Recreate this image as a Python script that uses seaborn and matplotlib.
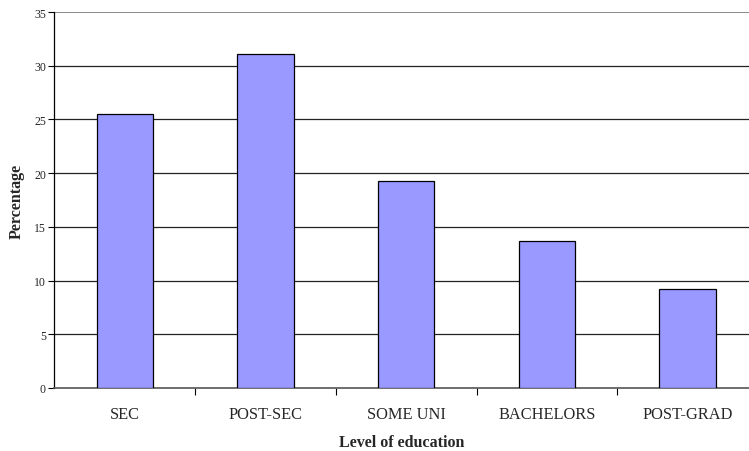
import matplotlib
matplotlib.use("Agg")
import matplotlib.pyplot as plt
import seaborn as sns
import pandas as pd
import numpy as np

categories = ["SEC", "POST-SEC", "SOME UNI", "BACHELORS", "POST-GRAD"]
percentages = [25.5, 31.1, 19.3, 13.7, 9.2]
y_ticks = [0, 5, 10, 15, 20, 25, 30, 35]

df = pd.DataFrame({"education": categories, "pct": percentages})

sns.set_style("white")
plt.rcParams["font.family"] = ["Liberation Serif", "DejaVu Serif"]

fig = plt.figure(figsize=(7.49, 4.52), dpi=100)
ax = fig.add_axes([0.0725, 0.1394, 0.9275, 0.8318])

sns.barplot(data=df, x="education", y="pct", color="#9999FF", width=0.4,
            edgecolor="black", linewidth=0.9, saturation=1, ax=ax, zorder=3)

ax.set_ylim(0, 35)
ax.set_yticks(y_ticks)
ax.set_xlim(-0.5, 4.436)

# horizontal gridlines
for v in y_ticks[1:]:
    ax.axhline(v, color="#222222" if v < 35 else "#808080", lw=0.9 if v < 35 else 1.3, zorder=1)

for s in ["top", "right"]:
    ax.spines[s].set_visible(False)
ax.spines["left"].set_color("black")
ax.spines["left"].set_linewidth(0.9)
ax.spines["bottom"].set_color("#555555")
ax.spines["bottom"].set_linewidth(1.2)

ax.tick_params(axis="y", direction="out", length=4, width=0.8, color="black",
               labelsize=8.5, pad=2, left=True)
ax.tick_params(axis="x", which="major", length=0, labelsize=11.8, pad=13)
ax.set_xticks(np.arange(0.5, 4.5, 1.0), minor=True)
ax.tick_params(axis="x", which="minor", direction="out", length=5, width=0.8, color="black", bottom=True)

ax.set_xlabel("Level of education", fontsize=11.5, fontweight="bold", va="center")
ax.set_ylabel("Percentage", fontsize=11.5, fontweight="bold", va="center")
ax.xaxis.set_label_coords(0.5, -0.1436)
ax.yaxis.set_label_coords(-0.0537, 0.5)

fig.savefig("out.png", dpi=100)
